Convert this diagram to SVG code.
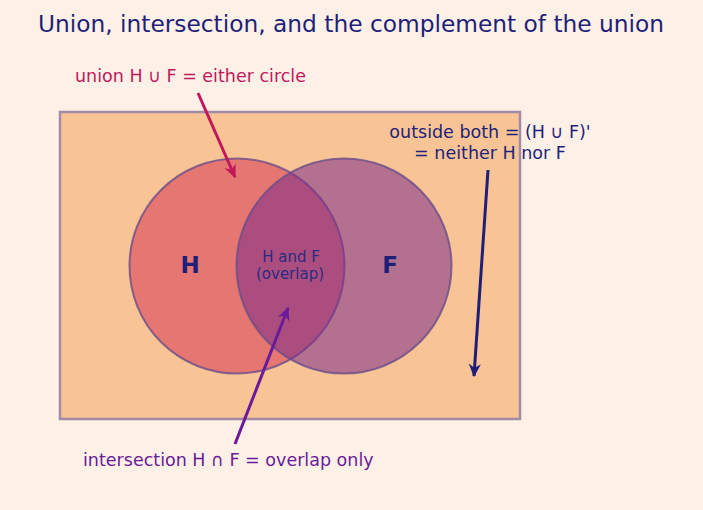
<svg xmlns="http://www.w3.org/2000/svg" width="703" height="510" viewBox="0 0 703 510">
<style>
text{font-family:"DejaVu Sans","Noto Sans",sans-serif}
.title{font-size:23.3px;fill:#1f1f7a}
.lbl{font-size:17.5px}
.set{font-size:23px;font-weight:bold;fill:#1f1f7a}
.small{font-size:15px;fill:#2a2a80}
.circ{stroke:#6a4c8c;stroke-width:2;stroke-opacity:0.8}
</style>
<defs>
<marker id="ac" viewBox="0 0 10 10" refX="9" refY="5" markerWidth="4.5" markerHeight="4.5" orient="auto"><path d="M0,0.5 L10,5 L0,9.5 L3,5 z" fill="#c2185b"/></marker>
<marker id="an" viewBox="0 0 10 10" refX="9" refY="5" markerWidth="4.5" markerHeight="4.5" orient="auto"><path d="M0,0.5 L10,5 L0,9.5 L3,5 z" fill="#1f1f7a"/></marker>
<marker id="ap" viewBox="0 0 10 10" refX="9" refY="5" markerWidth="4.5" markerHeight="4.5" orient="auto"><path d="M0,0.5 L10,5 L0,9.5 L3,5 z" fill="#6a1b9a"/></marker>
</defs>
<rect width="703" height="510" fill="#fdf1e7"/>
<text class="title" x="351" y="32" text-anchor="middle">Union, intersection, and the complement of the union</text>
<g id="universe"><rect x="60" y="112" width="460" height="307" fill="#f8c495" stroke="#a38aa8" stroke-width="2.5"/></g>
<g id="H"><circle class="circ" cx="237" cy="266" r="107.5" fill="#d9435a" fill-opacity="0.6"/></g>
<g id="F"><circle class="circ" cx="344" cy="266" r="107.5" fill="#7b2d8b" fill-opacity="0.55"/></g>
<g id="labels">
<text class="set" x="190" y="273" text-anchor="middle">H</text>
<text class="set" x="390" y="273" text-anchor="middle">F</text>
<text class="small" x="291" y="262" text-anchor="middle">H and F</text>
<text class="small" x="290" y="279" text-anchor="middle">(overlap)</text>
</g>
<g id="union-label"><text class="lbl" x="75" y="82" fill="#c2185b">union H ∪ F = either circle</text></g>
<g id="outside-label">
<text class="lbl" x="490" y="138" text-anchor="middle" fill="#1f1f7a">outside both = (H ∪ F)'</text>
<text class="lbl" x="490" y="159" text-anchor="middle" fill="#1f1f7a">= neither H nor F</text>
</g>
<g id="intersection-label"><text class="lbl" x="83" y="466" fill="#6a1b9a">intersection H ∩ F = overlap only</text></g>
<g id="connectors" stroke-width="3" fill="none">
<line x1="198" y1="93" x2="235" y2="177" stroke="#c2185b" marker-end="url(#ac)"/>
<line x1="488" y1="170" x2="474" y2="376" stroke="#1f1f7a" marker-end="url(#an)"/>
<line x1="235" y1="444" x2="288" y2="308" stroke="#6a1b9a" marker-end="url(#ap)"/>
</g>
</svg>
